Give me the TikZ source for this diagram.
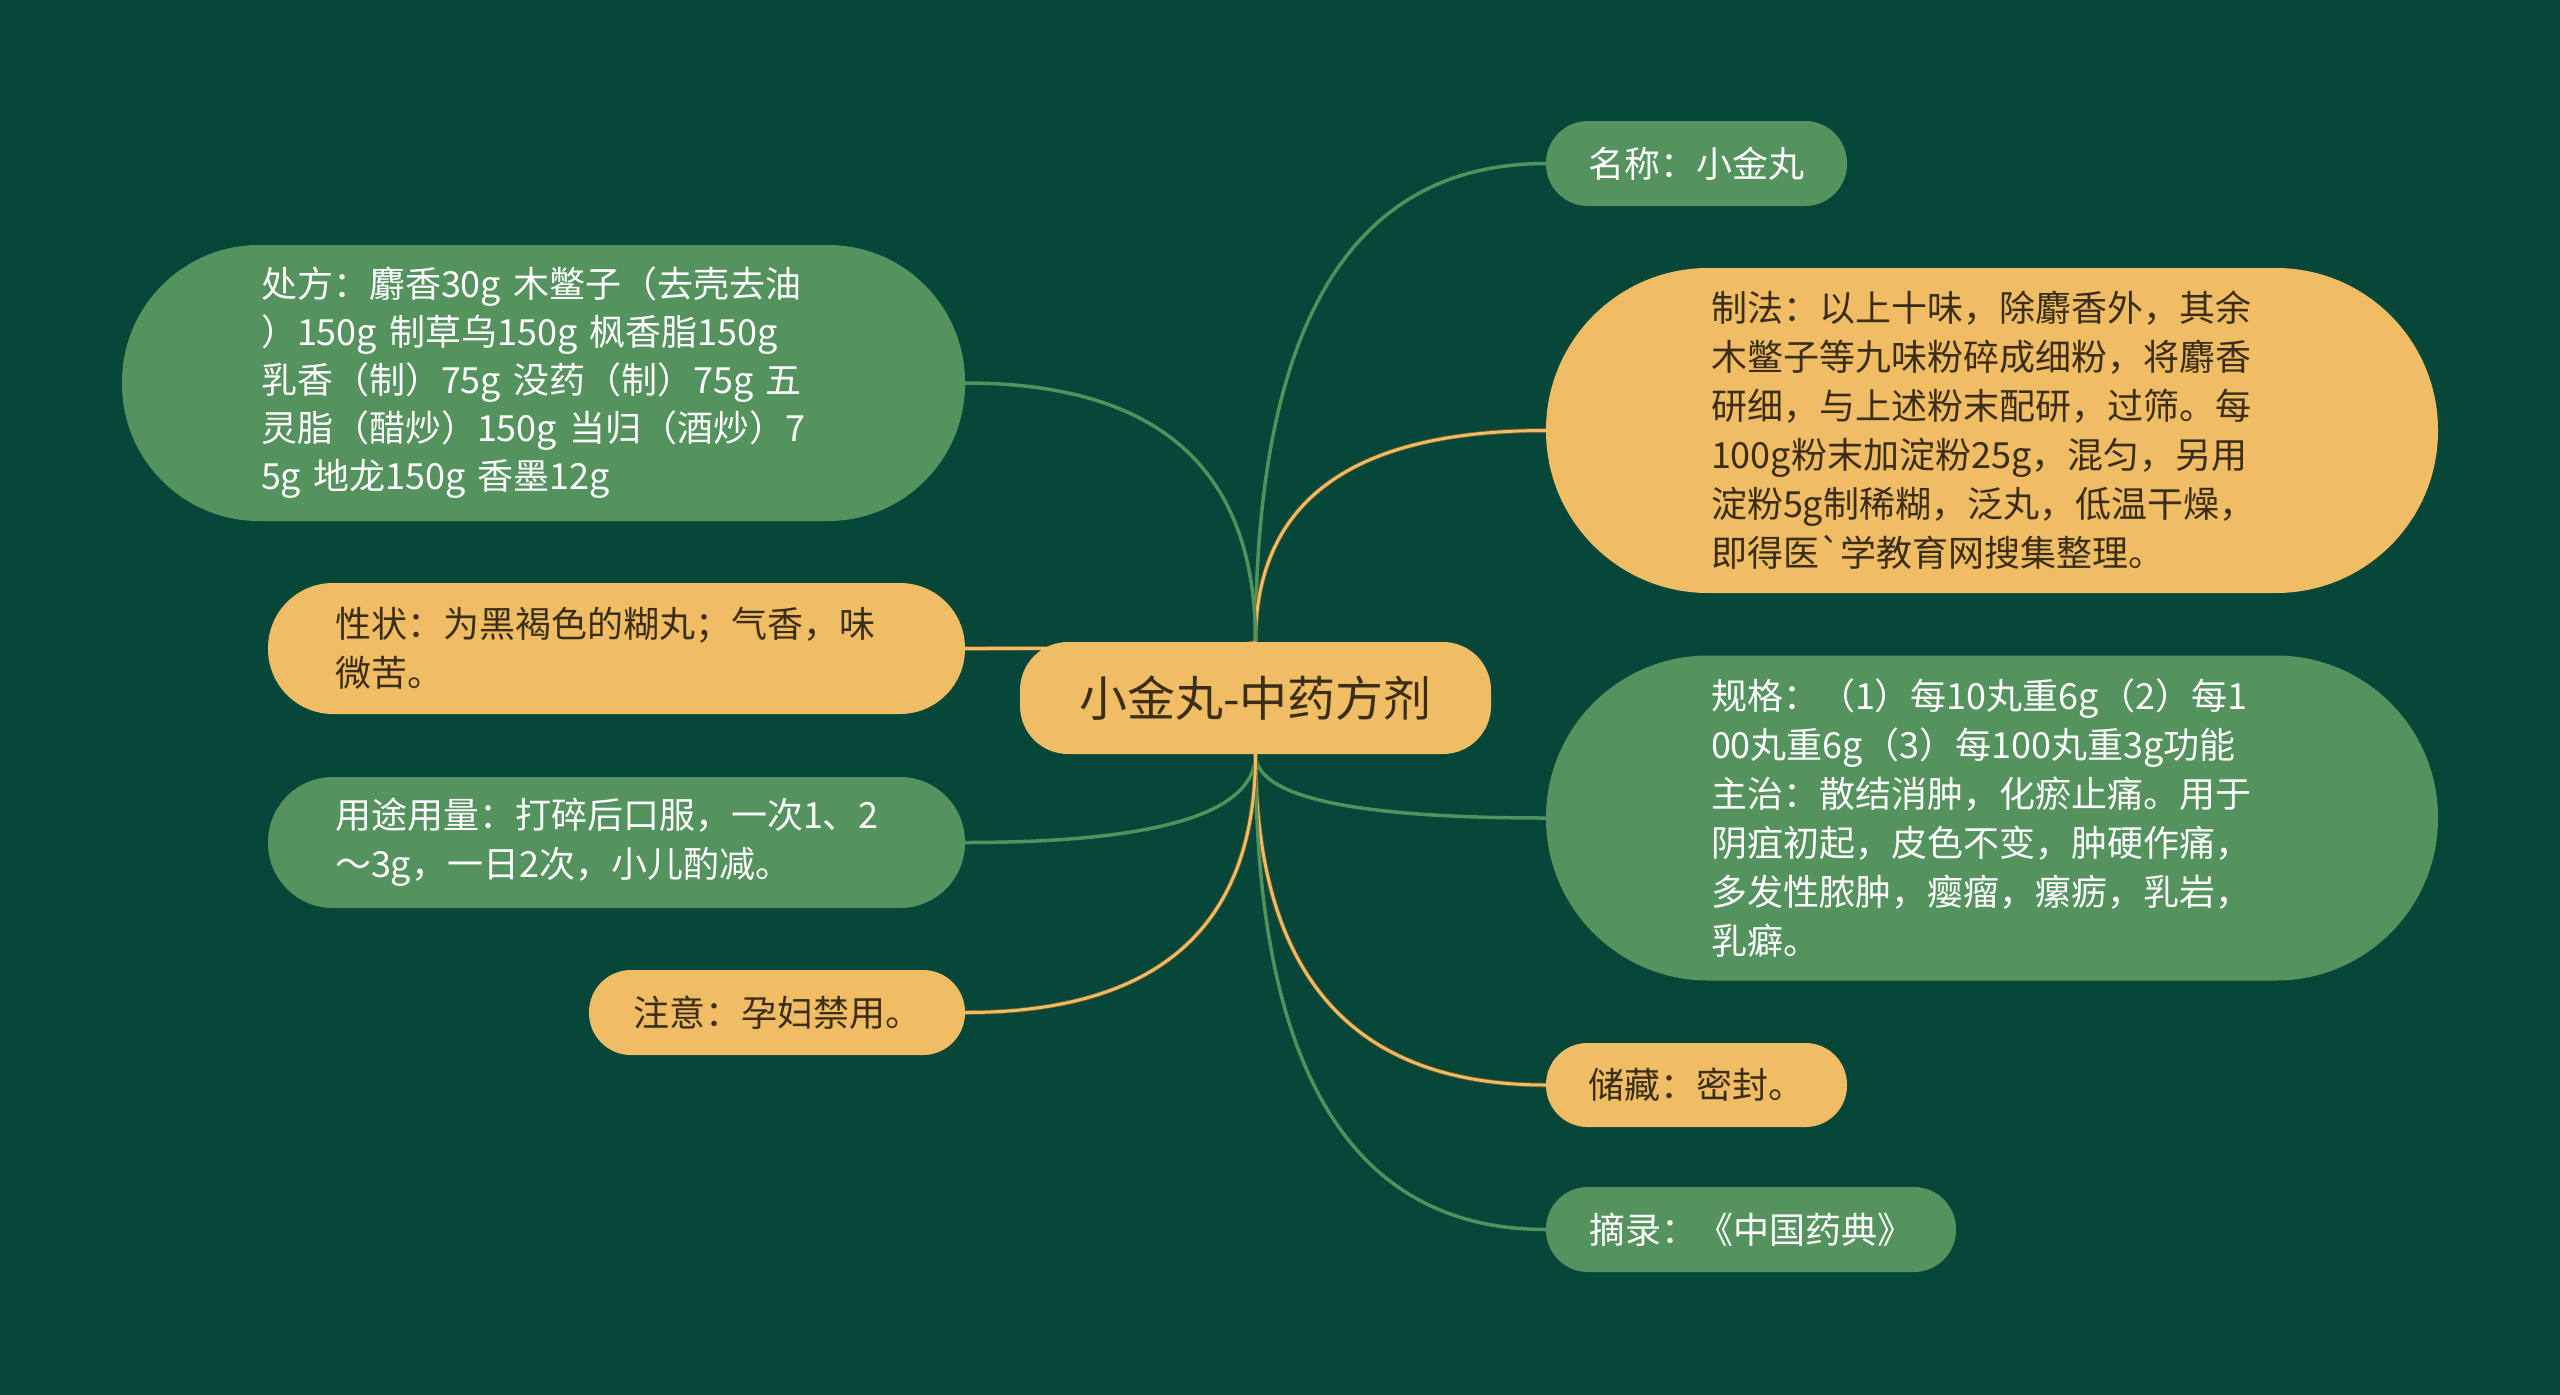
\documentclass[tikz,border=0pt]{standalone}
\usepackage{fontspec}
\newfontfamily\cjk{Noto Sans CJK SC}
\usetikzlibrary{calc}
\pgfdeclarelayer{back}
\pgfsetlayers{back,main}
\definecolor{bg}{HTML}{07473A}
\definecolor{ngreen}{HTML}{54925E}
\definecolor{nyellow}{HTML}{F0BD64}
\definecolor{tdark}{HTML}{3A2E16}
\definecolor{lgreen}{HTML}{4F925C}
\definecolor{ybord}{HTML}{6E5A2A}
\newcommand\mmlink[3]{%
  \coordinate (tmpk) at (#2 |- #3);
  \draw[#1] (#2) .. controls ($(#2)!0.667!(tmpk)$) and ($(#3)!0.667!(tmpk)$) .. (#3);}
\begin{document}
\begin{tikzpicture}[x=1pt,y=-1pt,
  base/.style={font=\cjk\fontsize{36}{49}\selectfont, inner ysep=0pt, align=left},
  gbox/.style={base, fill=ngreen, text=white},
  ybox/.style={base, fill=nyellow, text=tdark},
  gline/.style={draw=lgreen, line width=3.5pt},
  yline/.style={draw=nyellow, line width=3pt, preaction={draw=ybord, line width=4.6pt}}]
\useasboundingbox (0,0) rectangle (2560,1395);

% root
\node[ybox, font=\cjk\fontsize{48}{56}\selectfont, minimum width=471pt, minimum height=112pt, rounded corners=48pt, inner xsep=0pt, align=center] (root) at (1255.5,698) {小金丸-中药方剂};

% right side
\node[gbox, minimum width=301pt, minimum height=85pt, rounded corners=42pt, inner xsep=0pt, align=center] (name) at (1696.5,163.5) {名称：小金丸};
\node[ybox, text width=562pt, inner xsep=165pt, minimum height=325pt, rounded corners=162pt] (zhifa) at (1992,430.5) {制法：以上十味，除麝香外，其余\\木鳖子等九味粉碎成细粉，将麝香\\研细，与上述粉末配研，过筛。每\\100g粉末加淀粉25g，混匀，另用\\淀粉5g制稀糊，泛丸，低温干燥，\\即得医`学教育网搜集整理。};
\node[gbox, text width=562pt, inner xsep=165pt, minimum height=325pt, rounded corners=162pt] (guige) at (1992,818) {规格：（1）每10丸重6g（2）每1\\00丸重6g（3）每100丸重3g功能\\主治：散结消肿，化瘀止痛。用于\\阴疽初起，皮色不变，肿硬作痛，\\多发性脓肿，瘿瘤，瘰疬，乳岩，\\乳癖。};
\node[ybox, minimum width=301pt, minimum height=84pt, rounded corners=41.5pt, inner xsep=0pt, align=center] (chucang) at (1696.5,1085) {储藏：密封。};
\node[gbox, minimum width=410pt, minimum height=85pt, rounded corners=42pt, inner xsep=0pt, align=center] (zhailu) at (1751,1229.5) {摘录：《中国药典》};

% left side
\node[gbox, font=\cjk\fontsize{36}{48}\selectfont, text width=565pt, inner xsep=139pt, minimum height=276pt, rounded corners=137pt] (chufang) at (543.5,383) {处方：麝香30g 木鳖子（去壳去油\\）150g 制草乌150g 枫香脂150g\\乳香（制）75g 没药（制）75g 五\\灵脂（醋炒）150g 当归（酒炒）7\\5g 地龙150g 香墨12g};
\node[ybox, text width=563pt, inner xsep=67pt, minimum height=131pt, rounded corners=65pt] (xingzhuang) at (616.5,648.5) {性状：为黑褐色的糊丸；气香，味\\微苦。};
\node[gbox, text width=563pt, inner xsep=67pt, minimum height=131pt, rounded corners=65pt] (yongtu) at (616.5,842.5) {用途用量：打碎后口服，一次1、2\\～3g，一日2次，小儿酌减。};
\node[ybox, minimum width=376pt, minimum height=85pt, rounded corners=42pt, inner xsep=0pt, align=center] (zhuyi) at (777,1012.5) {注意：孕妇禁用。};

\begin{pgfonlayer}{back}
\fill[bg] (0,0) rectangle (2560,1395);
\mmlink{gline}{root.north}{name.west}
\mmlink{yline}{root.north}{zhifa.west}
\mmlink{gline}{root.south}{guige.west}
\mmlink{yline}{root.south}{chucang.west}
\mmlink{gline}{root.south}{zhailu.west}
\mmlink{gline}{root.north}{chufang.east}
\mmlink{yline}{root.north}{xingzhuang.east}
\mmlink{gline}{root.south}{yongtu.east}
\mmlink{yline}{root.south}{zhuyi.east}
\end{pgfonlayer}
\end{tikzpicture}
\end{document}
